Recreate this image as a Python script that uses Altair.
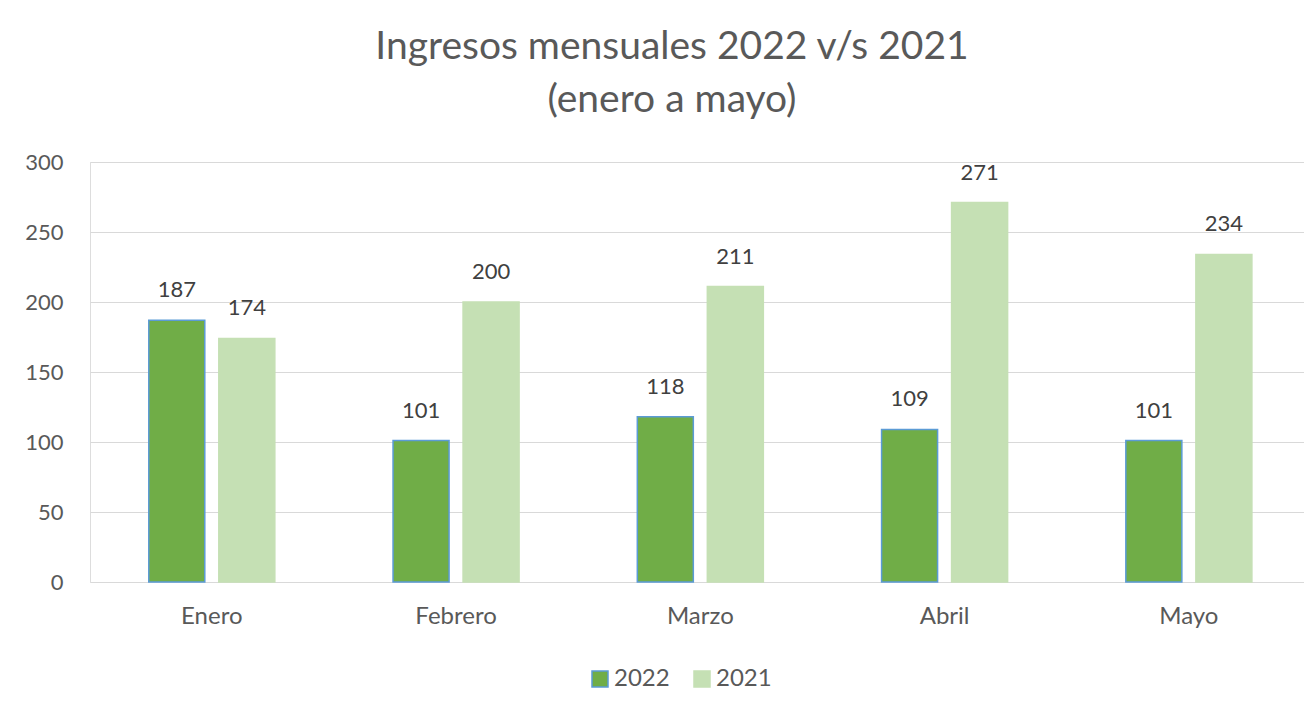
import altair as alt
import pandas as pd

months = ["Enero", "Febrero", "Marzo", "Abril", "Mayo"]
series = ["2022", "2021"]
v2022 = [187, 101, 118, 109, 101]
v2021 = [174, 200, 211, 271, 234]
y_ticks = [0, 50, 100, 150, 200, 250, 300]

rows = []
for m, a, b in zip(months, v2022, v2021):
    rows.append({"month": m, "series": "2022", "value": a})
    rows.append({"month": m, "series": "2021", "value": b})
df = pd.DataFrame(rows)

FONT = "Lato"

legend = alt.Legend(
    title=None, orient="none", direction="horizontal",
    legendX=498, legendY=505, symbolType="square", symbolSize=256,
    symbolStrokeWidth=1.5, labelFontSize=24, labelFont=FONT,
    labelColor="#595959", columnPadding=20, labelOffset=2, padding=0,
)

base = alt.Chart(df).encode(
    x=alt.X("month:N", sort=months,
            scale=alt.Scale(paddingInner=0.484, paddingOuter=0.227, align=0.53),
            axis=alt.Axis(title=None, labelAngle=0, domain=False, ticks=False,
                          labelPadding=22, labelFontSize=24, labelFont=FONT,
                          labelColor="#595959", grid=False)),
    xOffset=alt.XOffset("series:N", sort=series,
                        scale=alt.Scale(paddingInner=0.2, paddingOuter=0)),
    y=alt.Y("value:Q", scale=alt.Scale(domain=[0, 300], nice=False),
            axis=alt.Axis(title=None, values=y_ticks, domain=False, ticks=False,
                          grid=True, gridColor="#D9D9D9", gridWidth=1,
                          labelPadding=27, labelFontSize=22, labelFont=FONT,
                          labelColor="#595959")),
)

bars = base.mark_bar(strokeWidth=1.5).encode(
    color=alt.Color("series:N", sort=series,
                    scale=alt.Scale(domain=series, range=["#70AD47", "#C5E0B4"]),
                    legend=legend),
    stroke=alt.Stroke("series:N", sort=series,
                      scale=alt.Scale(domain=series, range=["#5B9BD5", "#C5E0B4"]),
                      legend=legend),
)

labels = base.mark_text(baseline="bottom", dy=-18, fontSize=22, font=FONT,
                        color="#404040").encode(text="value:Q")

chart = (bars + labels).properties(
    width=1214, height=420,
    autosize=alt.AutoSizeParams(type="none"),
    padding={"left": 82, "top": 154, "right": 0, "bottom": 112},
    title=alt.TitleParams(
        ["Ingresos mensuales 2022 v/s 2021", "(enero a mayo)"],
        fontSize=39, font=FONT, fontWeight="normal", color="#595959",
        lineHeight=53, offset=31, dx=-25, anchor="middle",
    ),
).configure_view(stroke=None).configure(background="white")

chart.save("out.html", embed_options={"renderer": "svg", "actions": False})
